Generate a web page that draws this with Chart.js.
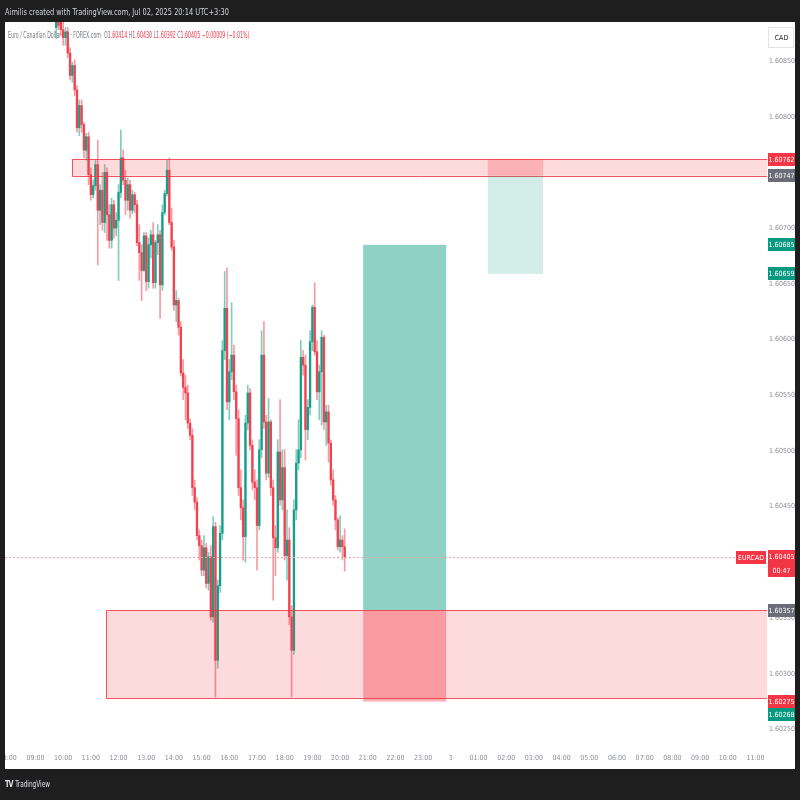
<!DOCTYPE html>
<html>
<head>
<meta charset="utf-8">
<title>EURCAD 5m</title>
<script src="https://cdn.jsdelivr.net/npm/chart.js@4.4.0/dist/chart.umd.min.js"></script>
<style>
  html, body { margin: 0; padding: 0; background: #1e1e1e; }
  #wrap { position: relative; width: 800px; height: 800px; overflow: hidden; }
  #chart { position: absolute; left: 0; top: 0; }
  .txt { position: absolute; white-space: nowrap; transform-origin: 0 50%;
         font-family: 'DejaVu Sans Condensed', 'DejaVu Sans', sans-serif; }
  #header { left: 5px; top: 7px; font-size: 9px; color: #d1d4dc; transform: scaleX(0.82); }
  #legend { left: 8px; top: 30px; font-size: 8.5px; color: #787b86; transform: scaleX(0.62); }
  #legend .v { color: #f23645; }
  #footer { left: 5px; top: 779px; font-size: 8px; color: #e0e3eb; transform: scaleX(0.8); }
  #footer b { font-size: 9px; letter-spacing: -1px; margin-right: 3px; }
</style>
</head>
<body>
<div id="wrap">
  <canvas id="chart" width="800" height="800"></canvas>
  <div class="txt" id="header">Aimilis created with TradingView.com, Jul 02, 2025 20:14 UTC+3:30</div>
  <div class="txt" id="legend">Euro / Canadian Dollar · 5 · FOREX.com &nbsp;O<span class="v">1.60414</span> H<span class="v">1.60430</span> L<span class="v">1.60392</span> C<span class="v">1.60405</span> <span class="v">−0.00009 (−0.01%)</span></div>
  <div class="txt" id="footer"><b>TV</b>TradingView</div>
</div>
<script>
// ===============================
// DATA (5 minute bars, EURCAD)
// ===============================
const firstBar = 585; // 09:45, minutes from midnight

const opens = [
  1.60880, 1.60888, 1.60885, 1.60878, 1.60871, 1.60876, 1.60857, 1.60837, 1.60846, 1.60824,
  1.60790, 1.60810, 1.60793, 1.60770, 1.60782, 1.60748, 1.60730, 1.60738, 1.60757, 1.60716,
  1.60734, 1.60705, 1.60750, 1.60712, 1.60689, 1.60721, 1.60700, 1.60707, 1.60732, 1.60763,
  1.60743, 1.60725, 1.60739, 1.60716, 1.60730, 1.60721, 1.60687, 1.60678, 1.60662, 1.60693,
  1.60652, 1.60685, 1.60694, 1.60651, 1.60687, 1.60694, 1.60649, 1.60714, 1.60731, 1.60752,
  1.60705, 1.60683, 1.60631, 1.60635, 1.60611, 1.60570, 1.60557, 1.60552, 1.60525, 1.60514,
  1.60467, 1.60454, 1.60424, 1.60415, 1.60393, 1.60413, 1.60381, 1.60405, 1.60351, 1.60432,
  1.60312, 1.60379, 1.60426, 1.60590, 1.60628, 1.60544, 1.60571, 1.60586, 1.60553, 1.60529,
  1.60467, 1.60449, 1.60423, 1.60525, 1.60552, 1.60505, 1.60472, 1.60467, 1.60433, 1.60501,
  1.60586, 1.60526, 1.60480, 1.60526, 1.60467, 1.60422, 1.60413, 1.60499, 1.60456, 1.60485,
  1.60406, 1.60420, 1.60351, 1.60321, 1.60447, 1.60489, 1.60501, 1.60584, 1.60577, 1.60519,
  1.60539, 1.60598, 1.60629, 1.60589, 1.60553, 1.60571, 1.60602, 1.60526, 1.60535, 1.60507,
  1.60474, 1.60456, 1.60438, 1.60414, 1.60420, 1.60414
];
const highs = [
  1.60895, 1.60893, 1.60891, 1.60887, 1.60880, 1.60880, 1.60862, 1.60849, 1.60851, 1.60828,
  1.60815, 1.60815, 1.60795, 1.60785, 1.60786, 1.60754, 1.60743, 1.60761, 1.60779, 1.60739,
  1.60750, 1.60757, 1.60754, 1.60721, 1.60727, 1.60725, 1.60714, 1.60739, 1.60788, 1.60770,
  1.60752, 1.60745, 1.60743, 1.60734, 1.60732, 1.60725, 1.60703, 1.60685, 1.60696, 1.60696,
  1.60691, 1.60698, 1.60705, 1.60689, 1.60703, 1.60698, 1.60721, 1.60734, 1.60761, 1.60763,
  1.60718, 1.60689, 1.60644, 1.60637, 1.60616, 1.60582, 1.60568, 1.60559, 1.60529, 1.60520,
  1.60474, 1.60458, 1.60429, 1.60420, 1.60424, 1.60417, 1.60409, 1.60415, 1.60441, 1.60436,
  1.60384, 1.60433, 1.60599, 1.60661, 1.60664, 1.60582, 1.60633, 1.60595, 1.60559, 1.60537,
  1.60483, 1.60456, 1.60532, 1.60559, 1.60556, 1.60510, 1.60483, 1.60474, 1.60510, 1.60608,
  1.60616, 1.60532, 1.60547, 1.60528, 1.60474, 1.60433, 1.60510, 1.60546, 1.60501, 1.60501,
  1.60447, 1.60431, 1.60361, 1.60456, 1.60501, 1.60528, 1.60599, 1.60590, 1.60586, 1.60546,
  1.60608, 1.60631, 1.60651, 1.60599, 1.60577, 1.60608, 1.60604, 1.60541, 1.60541, 1.60510,
  1.60483, 1.60460, 1.60440, 1.60442, 1.60424, 1.60430
];
const lows = [
  1.60870, 1.60878, 1.60873, 1.60864, 1.60864, 1.60853, 1.60833, 1.60831, 1.60819, 1.60786,
  1.60783, 1.60786, 1.60763, 1.60761, 1.60739, 1.60725, 1.60727, 1.60734, 1.60667, 1.60703,
  1.60698, 1.60696, 1.60689, 1.60682, 1.60682, 1.60691, 1.60693, 1.60653, 1.60727, 1.60739,
  1.60712, 1.60716, 1.60709, 1.60713, 1.60714, 1.60684, 1.60653, 1.60635, 1.60661, 1.60644,
  1.60646, 1.60673, 1.60646, 1.60646, 1.60676, 1.60619, 1.60644, 1.60712, 1.60729, 1.60703,
  1.60680, 1.60626, 1.60616, 1.60604, 1.60567, 1.60546, 1.60528, 1.60520, 1.60510, 1.60460,
  1.60447, 1.60420, 1.60402, 1.60388, 1.60388, 1.60377, 1.60375, 1.60348, 1.60346, 1.60279,
  1.60305, 1.60373, 1.60420, 1.60582, 1.60537, 1.60528, 1.60564, 1.60546, 1.60496, 1.60460,
  1.60438, 1.60402, 1.60400, 1.60519, 1.60501, 1.60465, 1.60456, 1.60393, 1.60429, 1.60494,
  1.60520, 1.60474, 1.60476, 1.60460, 1.60366, 1.60388, 1.60409, 1.60451, 1.60447, 1.60402,
  1.60384, 1.60344, 1.60279, 1.60317, 1.60438, 1.60483, 1.60494, 1.60568, 1.60492, 1.60510,
  1.60532, 1.60590, 1.60586, 1.60546, 1.60528, 1.60523, 1.60519, 1.60505, 1.60490, 1.60469,
  1.60451, 1.60429, 1.60411, 1.60409, 1.60402, 1.60392
];
const closes = [
  1.60888, 1.60882, 1.60878, 1.60871, 1.60876, 1.60857, 1.60837, 1.60846, 1.60824, 1.60790,
  1.60810, 1.60793, 1.60770, 1.60782, 1.60748, 1.60730, 1.60738, 1.60757, 1.60716, 1.60734,
  1.60705, 1.60750, 1.60712, 1.60689, 1.60721, 1.60700, 1.60707, 1.60732, 1.60763, 1.60743,
  1.60725, 1.60739, 1.60716, 1.60730, 1.60721, 1.60687, 1.60678, 1.60662, 1.60693, 1.60652,
  1.60685, 1.60694, 1.60651, 1.60687, 1.60694, 1.60649, 1.60714, 1.60731, 1.60752, 1.60705,
  1.60683, 1.60631, 1.60635, 1.60611, 1.60570, 1.60557, 1.60552, 1.60525, 1.60514, 1.60467,
  1.60454, 1.60424, 1.60415, 1.60393, 1.60413, 1.60381, 1.60405, 1.60351, 1.60432, 1.60312,
  1.60379, 1.60426, 1.60590, 1.60628, 1.60544, 1.60571, 1.60586, 1.60553, 1.60529, 1.60467,
  1.60449, 1.60423, 1.60525, 1.60552, 1.60505, 1.60472, 1.60467, 1.60433, 1.60501, 1.60586,
  1.60526, 1.60480, 1.60526, 1.60467, 1.60422, 1.60413, 1.60499, 1.60456, 1.60485, 1.60406,
  1.60420, 1.60351, 1.60321, 1.60447, 1.60489, 1.60501, 1.60584, 1.60577, 1.60519, 1.60539,
  1.60598, 1.60629, 1.60589, 1.60553, 1.60571, 1.60602, 1.60526, 1.60535, 1.60507, 1.60474,
  1.60456, 1.60438, 1.60414, 1.60420, 1.60414, 1.60405
];

// axis ticks
const priceTicks = [1.6025, 1.6030, 1.6035, 1.6040, 1.6045, 1.6050, 1.6055, 1.6060,
                    1.6065, 1.6070, 1.6075, 1.6080, 1.6085];
const timeTicks = [480, 540, 600, 660, 720, 780, 840, 900, 960, 1020, 1080, 1140, 1200,
                   1260, 1320, 1380, 1440, 1500, 1560, 1620, 1680, 1740, 1800, 1860, 1920,
                   1980, 2040, 2100];
const timeLabels = ['08:00', '09:00', '10:00', '11:00', '12:00', '13:00', '14:00', '15:00',
                    '16:00', '17:00', '18:00', '19:00', '20:00', '21:00', '22:00', '23:00',
                    '3', '01:00', '02:00', '03:00', '04:00', '05:00', '06:00', '07:00',
                    '08:00', '09:00', '10:00', '11:00'];

// supply / demand zones (start time, top, bottom), run to the right edge
const zoneStarts = [620, 693];
const zoneTops = [1.60762, 1.60357];
const zoneBottoms = [1.60747, 1.60278];

// position tools: long (active) and short (faded)
const posStarts = [1250, 1520];
const posEnds = [1430, 1640];
const posEntries = [1.60357, 1.60747];
const posTargets = [1.60685, 1.60659];
const posStops = [1.60275, 1.60762];

// price scale labels
const levelPrices = [1.60762, 1.60747, 1.60685, 1.60659, 1.60357, 1.60275, 1.60268];
const levelKinds = ['down', 'entry', 'up', 'up', 'entry', 'down', 'up'];
const symbol = 'EURCAD';
const countdown = '00:47';
const currency = 'CAD';

// ===============================
// STYLE
// ===============================
const UP = '#089981';
const DOWN = '#f23645';
const GREY = '#6a6d78';
const kindColor = { up: UP, down: DOWN, entry: GREY };
const posTargetFill = ['rgba(8,153,129,0.45)', 'rgba(8,153,129,0.18)'];
const posStopFill = ['rgba(242,54,69,0.40)', 'rgba(242,54,69,0.25)'];
const FONT = "'DejaVu Sans Condensed', 'DejaVu Sans', sans-serif";

Chart.defaults.font.family = FONT;
Chart.defaults.font.size = 7;
Chart.defaults.color = '#8a8d96';

const times = opens.map((_, i) => firstBar + i * 5);
const candleColors = opens.map((o, i) => (closes[i] >= o ? 'rgba(8,153,129,0.9)' : 'rgba(242,54,69,0.9)'));
const wickColors = opens.map((o, i) => (closes[i] >= o ? 'rgba(8,153,129,0.5)' : 'rgba(242,54,69,0.5)'));

// ===============================
// DRAWING HELPERS
// ===============================
function fillBox(ctx, x, y, t0, t1, p0, p1, color) {
  const xa = x.getPixelForValue(t0), xb = x.getPixelForValue(t1);
  const ya = y.getPixelForValue(p0), yb = y.getPixelForValue(p1);
  ctx.fillStyle = color;
  ctx.fillRect(Math.min(xa, xb), Math.min(ya, yb), Math.abs(xb - xa), Math.abs(yb - ya));
}

function tag(ctx, left, yc, w, h, bg, lines) {
  const top = Math.round(yc - h / 2);
  ctx.fillStyle = bg;
  ctx.fillRect(left, top, w, h);
  ctx.fillStyle = '#ffffff';
  ctx.textAlign = 'center';
  ctx.textBaseline = 'middle';
  const lh = h / lines.length;
  lines.forEach((s, k) => {
    ctx.fillText(s, left + w / 2, top + lh * k + lh / 2 + 0.5);
  });
}

const tvPlugin = {
  id: 'tv',
  beforeDraw(chart) {
    const ctx = chart.ctx;
    ctx.save();
    ctx.fillStyle = '#1e1e1e';
    ctx.fillRect(0, 0, chart.width, chart.height);
    ctx.fillStyle = '#ffffff';
    ctx.fillRect(5, 22, 790, 747);
    ctx.restore();
  },
  afterDatasetsDraw(chart) {
    const { ctx, chartArea: a, scales: { x, y } } = chart;
    ctx.save();
    ctx.beginPath();
    ctx.rect(a.left, a.top, a.right - a.left, a.bottom - a.top);
    ctx.clip();

    // zones
    zoneStarts.forEach((t0, i) => {
      fillBox(ctx, x, y, t0, x.max, zoneTops[i], zoneBottoms[i], 'rgba(242,54,69,0.18)');
      const xl = Math.round(x.getPixelForValue(t0)) + 0.5;
      const yt = Math.round(y.getPixelForValue(zoneTops[i])) + 0.5;
      const yb = Math.round(y.getPixelForValue(zoneBottoms[i])) + 0.5;
      ctx.strokeStyle = 'rgba(242,54,69,0.85)';
      ctx.lineWidth = 1;
      ctx.beginPath();
      ctx.moveTo(a.right, yt); ctx.lineTo(xl, yt); ctx.lineTo(xl, yb); ctx.lineTo(a.right, yb);
      ctx.stroke();
    });

    // position tools
    posStarts.forEach((t0, i) => {
      fillBox(ctx, x, y, t0, posEnds[i], posEntries[i], posTargets[i], posTargetFill[i]);
      fillBox(ctx, x, y, t0, posEnds[i], posEntries[i], posStops[i], posStopFill[i]);
    });

    // last price line
    const lastY = Math.round(y.getPixelForValue(closes[closes.length - 1])) + 0.5;
    ctx.strokeStyle = '#f7a1a8';
    ctx.lineWidth = 1;
    ctx.setLineDash([2, 2]);
    ctx.beginPath();
    ctx.moveTo(a.left, lastY);
    ctx.lineTo(a.right, lastY);
    ctx.stroke();
    ctx.restore();
  },
  afterDraw(chart) {
    const { ctx, chartArea: a, scales: { y } } = chart;
    const left = a.right + 1, w = 27, h = 13;
    ctx.save();
    ctx.font = '7px ' + FONT;

    // level tags, pushed apart when they would overlap
    let prevBottom = -Infinity;
    levelPrices.forEach((p, i) => {
      let yc = y.getPixelForValue(p);
      if (yc - h / 2 < prevBottom) yc = prevBottom + h / 2;
      prevBottom = yc + h / 2;
      tag(ctx, left, yc, w, h, kindColor[levelKinds[i]], [p.toFixed(5)]);
    });

    // last price tag + symbol tag
    const last = closes[closes.length - 1];
    const ly = y.getPixelForValue(last);
    tag(ctx, left, ly + 7, w, 27, DOWN, [last.toFixed(5), countdown]);
    const sw = Math.ceil(ctx.measureText(symbol).width) + 3;
    tag(ctx, a.right - sw - 1, ly + 0.5, sw, 13, DOWN, [symbol]);

    // currency box
    ctx.fillStyle = '#ffffff';
    ctx.fillRect(left, 27, w - 1, 21);
    ctx.strokeStyle = '#e0e3eb';
    ctx.strokeRect(left + 0.5, 27.5, w - 2, 20);
    ctx.fillStyle = '#131722';
    ctx.textAlign = 'center';
    ctx.textBaseline = 'middle';
    ctx.fillText(currency, left + w / 2, 38);

    // outer dark frame
    ctx.fillStyle = '#1e1e1e';
    ctx.fillRect(0, 0, 5, chart.height);
    ctx.fillRect(795, 0, 5, chart.height);
    ctx.restore();
  }
};

// ===============================
// CHART
// ===============================
new Chart(document.getElementById('chart'), {
  type: 'bar',
  data: {
    datasets: [
      {
        label: 'wick',
        data: times.map((t, i) => ({ x: t, y: [lows[i], highs[i]] })),
        backgroundColor: wickColors,
        barThickness: 1,
        grouped: false,
        order: 2
      },
      {
        label: 'body',
        data: times.map((t, i) => ({ x: t, y: [opens[i], closes[i]] })),
        backgroundColor: candleColors,
        barThickness: 1.7,
        minBarLength: 1,
        grouped: false,
        order: 1
      }
    ]
  },
  options: {
    responsive: false,
    animation: false,
    layout: { padding: { left: 5, top: 22, right: 5, bottom: 31 } },
    plugins: { legend: { display: false }, tooltip: { enabled: false } },
    scales: {
      x: {
        type: 'linear',
        min: 474,
        max: 2125,
        offset: false,
        grid: { display: false, drawTicks: false },
        border: { display: false },
        afterBuildTicks(scale) { scale.ticks = timeTicks.map(v => ({ value: v })); },
        afterFit(scale) { scale.height = 24; scale.paddingLeft = 0; scale.paddingRight = 0; },
        ticks: {
          autoSkip: false,
          maxRotation: 0,
          padding: 9,
          callback: (v, i) => timeLabels[i]
        }
      },
      y: {
        position: 'right',
        min: 1.60236,
        max: 1.60885,
        grid: { display: false, drawTicks: false },
        border: { display: false },
        afterBuildTicks(scale) { scale.ticks = priceTicks.map(v => ({ value: v })); },
        afterFit(scale) { scale.width = 28; scale.paddingTop = 0; scale.paddingBottom = 0; },
        ticks: {
          padding: 2,
          callback: v => v.toFixed(5)
        }
      }
    }
  },
  plugins: [tvPlugin]
});
</script>
</body>
</html>
